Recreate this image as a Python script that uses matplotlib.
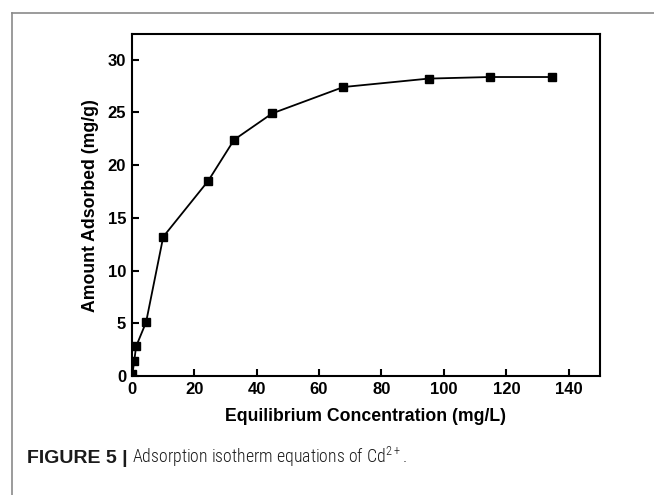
import matplotlib
matplotlib.use("Agg")
import matplotlib.pyplot as plt
from matplotlib.lines import Line2D

# Cd2+ adsorption: equilibrium concentration (mg/L) vs amount adsorbed (mg/g)
conc = [0.2, 0.8, 1.4, 4.6, 10.1, 24.5, 32.8, 45.0, 67.8, 95.1, 114.7, 134.5]
adsorbed = [0.15, 1.4, 2.8, 5.1, 13.2, 18.5, 22.4, 24.9, 27.4, 28.2, 28.35, 28.35]

x_ticks = [0, 20, 40, 60, 80, 100, 120, 140]
y_ticks = [0, 5, 10, 15, 20, 25, 30]

plt.rcParams["font.family"] = ["Liberation Sans", "DejaVu Sans"]

fig = plt.figure(figsize=(6.54, 4.95), dpi=100)
ax = fig.add_axes([0.2014, 0.2404, 0.7160, 0.6903])

ax.plot(conc, adsorbed, color="black", linewidth=1.3, marker="s",
        markersize=6, markerfacecolor="black", markeredgecolor="black")

ax.set_xlim(0, 150)
ax.set_ylim(0, 32.4)
ax.set_xticks(x_ticks)
ax.set_yticks(y_ticks)
ax.tick_params(direction="in", length=5, width=1.5, labelsize=12, pad=4)
for lbl in ax.get_xticklabels() + ax.get_yticklabels():
    lbl.set_fontweight("bold")
for sp in ax.spines.values():
    sp.set_linewidth(1.5)

ax.set_xlabel("Equilibrium Concentration (mg/L)", fontsize=12.7,
              fontweight="bold", labelpad=8)
ax.set_ylabel("Amount Adsorbed (mg/g)", fontsize=12.7,
              fontweight="bold", labelpad=6)

# panel frame: only top and left edges
fig.add_artist(Line2D([12 / 654, 1.0], [1 - 13 / 495] * 2,
                      transform=fig.transFigure, color="#8a8a8a", linewidth=1.2))
fig.add_artist(Line2D([12 / 654] * 2, [0.0, 1 - 13 / 495],
                      transform=fig.transFigure, color="#8a8a8a", linewidth=1.2))

# caption
cap_y = 1 - 463 / 495
t = fig.text(27 / 654, cap_y, "FIGURE 5 |", fontsize=14, fontweight="bold",
             family=["Liberation Sans", "DejaVu Sans"], va="baseline",
             ha="left", color="#1a1a1a")
fig.canvas.draw()
bb = t.get_window_extent()
fig.text((bb.x1 + 4) / fig.bbox.width, cap_y,
         r"Adsorption isotherm equations of Cd$^{\mathregular{2+}}$.",
         fontsize=12.8, fontweight="light",
         family=["Roboto Condensed", "PT Sans Narrow", "Liberation Sans"],
         va="baseline", ha="left", color="#1a1a1a")

fig.savefig("out.png", dpi=100)
